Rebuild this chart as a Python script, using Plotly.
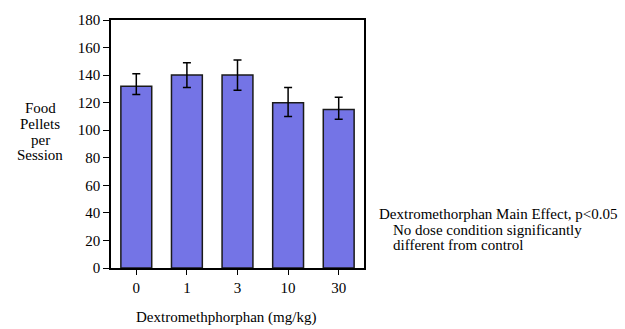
import plotly.graph_objects as go

doses = ["0", "1", "3", "10", "30"]
pellets = [132, 140, 140, 120, 115]
err_plus = [9, 9, 11, 11, 9]
err_minus = [6, 9, 11, 10, 7]
y_ticks = [0, 20, 40, 60, 80, 100, 120, 140, 160, 180]

FONT = "Liberation Serif"
FS = 15

fig = go.Figure()
fig.add_trace(go.Bar(
    x=doses, y=pellets,
    width=0.61,
    marker=dict(color="#7474E6", line=dict(color="#1a1a1a", width=1.5)),
    error_y=dict(type="data", symmetric=False, array=err_plus, arrayminus=err_minus,
                 color="black", thickness=1.5, width=4),
))

fig.update_layout(
    width=625, height=329,
    margin=dict(l=111, r=261, t=15, b=61),
    paper_bgcolor="white", plot_bgcolor="white",
    font=dict(family=FONT, size=FS, color="black"),
    showlegend=False,
)
fig.update_xaxes(
    type="category", range=[-0.5, 4.5],
    showline=True, linecolor="black", linewidth=1.5, mirror=True,
    ticks="outside", ticklen=5, tickcolor="black", tickwidth=1,
    tickfont=dict(family=FONT, size=FS),
    showgrid=False,
)
fig.update_yaxes(
    range=[0, 180], tickvals=y_ticks,
    showline=True, linecolor="black", linewidth=1.5, mirror=True,
    ticks="outside", ticklen=6, tickcolor="black", tickwidth=1,
    tickfont=dict(family=FONT, size=FS),
    showgrid=False, zeroline=False,
)

PW, PH, L, B = 254, 253, 111, 268


def px(xp):
    return (xp - L) / PW


def py(yp):
    return (B - yp) / PH


ylab_lines = ["Food", "Pellets", "per", "Session"]
ylab_y = [105, 121, 137, 153]
for t, yy in zip(ylab_lines, ylab_y):
    fig.add_annotation(text=t, xref="paper", yref="paper", x=px(40), y=py(yy),
                       xanchor="center", yanchor="middle", showarrow=False,
                       font=dict(family=FONT, size=FS))

fig.add_annotation(text="Dextromethphorphan (mg/kg)", xref="paper", yref="paper",
                   x=px(226), y=py(318), xanchor="center", yanchor="middle",
                   showarrow=False, font=dict(family=FONT, size=FS))

note_lines = ["Dextromethorphan Main Effect, p<0.05",
              "No dose condition significantly",
              "different from control"]
note_x = [378, 392, 392]
note_y = [213, 229, 245]
for t, xx, yy in zip(note_lines, note_x, note_y):
    fig.add_annotation(text=t, xref="paper", yref="paper", x=px(xx), y=py(yy),
                       xanchor="left", yanchor="middle", showarrow=False,
                       align="left", font=dict(family=FONT, size=FS))

fig.write_html("out.html")
